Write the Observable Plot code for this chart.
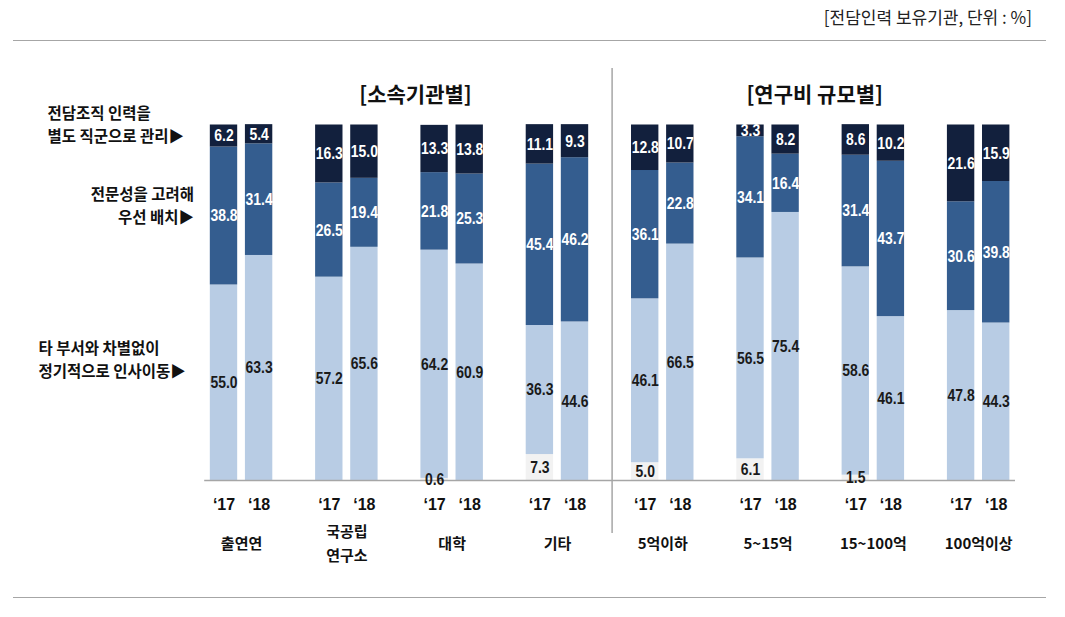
<!DOCTYPE html>
<html><head><meta charset="utf-8">
<script src="https://cdn.jsdelivr.net/npm/d3@7"></script>
<script src="https://cdn.jsdelivr.net/npm/@observablehq/plot@0.6"></script>
<style>
body{margin:0;background:#fff;width:1065px;height:617px;position:relative;overflow:hidden;font-family:"Noto Sans CJK KR","Noto Sans",sans-serif;}
#title{position:absolute;top:5px;right:33px;font-size:17px;color:#222;line-height:24px;}
.hline{position:absolute;left:13px;width:1033px;height:0;border-top:1.5px solid #a6a6a6;}
#chart{position:absolute;left:0;top:41px;}
</style></head><body>
<div id="title">[전담인력 보유기관, 단위 : %]</div>
<div class="hline" style="top:40px"></div>
<div id="chart"></div>
<div class="hline" style="top:597px"></div>
<script>
// ---- data ----
const groups = ["출연연", "국공립\n연구소", "대학", "기타", "5억이하", "5~15억", "15~100억", "100억이상"];
const years = ["‘17", "‘18"];
const sectionNames = ["[소속기관별]", "[연구비 규모별]"];
const groupSection = [0, 0, 0, 0, 1, 1, 1, 1];
const seriesNames = ["기타", "타 부서와 차별없이 정기적으로 인사이동", "전문성을 고려해 우선 배치", "전담조직 인력을 별도 직군으로 관리"];
const legendTexts = ["", "타 부서와 차별없이\n정기적으로 인사이동▶", "전문성을 고려해\n우선 배치▶", "전담조직 인력을\n별도 직군으로 관리▶"];
// values in group order, '17 then '18
const otherVals    = [0, 0,   0, 0,   0.6, 0,   7.3, 0,   5.0, 0,   6.1, 0,   1.5, 0,   0, 0];
const rotationVals = [55.0, 63.3, 57.2, 65.6, 64.2, 60.9, 36.3, 44.6, 46.1, 66.5, 56.5, 75.4, 58.6, 46.1, 47.8, 44.3];
const expertVals   = [38.8, 31.4, 26.5, 19.4, 21.8, 25.3, 45.4, 46.2, 36.1, 22.8, 34.1, 16.4, 31.4, 43.7, 30.6, 39.8];
const separateVals = [6.2, 5.4, 16.3, 15.0, 13.3, 13.8, 11.1, 9.3, 12.8, 10.7, 3.3, 8.2, 8.6, 10.2, 21.6, 15.9];

// ---- styles ----
const colors = ["#f2f2f2", "#b8cce4", "#345d8f", "#12203d"];
const numFont = "'Liberation Sans',Arial,sans-serif";
const tickFont = "Arial,'Liberation Sans',sans-serif";
const korFont = "'Noto Sans CJK KR',sans-serif";

// ---- build table ----
const seriesVals = [otherVals, rotationVals, expertVals, separateVals];
const rows = [];
groups.forEach((g, gi) => {
  years.forEach((yr, yi) => {
    const idx = gi * 2 + yi;
    const pos = gi * 3 + yi;
    let acc = 0;
    seriesVals.forEach((vals, si) => {
      const v = vals[idx];
      rows.push({group: g, year: yr, pos, series: seriesNames[si], si, value: v, y1: acc, y2: acc + v, mid: acc + v / 2, legend: legendTexts[si], gi, yi});
      acc += v;
    });
  });
});
const bars = rows.filter(d => d.value > 0);
const tickRows = groups.flatMap((g, gi) => years.map((yr, yi) => ({label: yr, pos: gi * 3 + yi})));
const groupRows = groups.map((g, gi) => ({label: g, pos: gi * 3 + 0.5}));
const sectionRows = sectionNames.map((s, si) => {
  const ps = groupRows.filter((d, gi) => groupSection[gi] === si).map(d => d.pos);
  return {label: s, pos: d3.mean(ps), si};
});
const lastOfFirst = d3.max(groupRows.filter((d, gi) => groupSection[gi] === 0), d => d.pos) + 0.5;
const firstOfSecond = d3.min(groupRows.filter((d, gi) => groupSection[gi] === 1), d => d.pos) - 0.5;
const dividerPos = (lastOfFirst + firstOfSecond) / 2;
const minPos = d3.min(rows, d => d.pos), maxPos = d3.max(rows, d => d.pos);
const firstBar = bars.filter(d => d.pos === minPos && d.si > 0);
const halfW = 0.39;

const legendStyle = {
  1: {textAnchor: "start", dx: -185.5, dy: -24.5},
  2: {textAnchor: "end", dx: -30, dy: -11.5},
  3: {textAnchor: "start", dx: -176.5, dy: -12.5}
};
const sectionDx = [16, -6];

const chart = Plot.plot({
  width: 1065,
  height: 556,
  marginTop: 83.5,
  marginBottom: 117,
  marginLeft: 0,
  marginRight: 0,
  x: {type: "linear", domain: [minPos, maxPos], range: [223.5, 995.7], axis: null},
  y: {domain: [0, 100], axis: null},
  color: {domain: seriesNames, range: colors},
  style: {fontFamily: korFont, background: "white", overflow: "visible"},
  marks: [
    Plot.rectY(bars, {x1: d => d.pos - halfW, x2: d => d.pos + halfW, y1: "y1", y2: "y2", fill: "series"}),
    Plot.ruleY([0], {x1: minPos - 0.55, x2: maxPos + 0.55, stroke: "#a6a6a6", strokeWidth: 1.5}),
    Plot.ruleX([dividerPos], {stroke: "#a6a6a6", strokeWidth: 1.5, insetTop: -56.5, insetBottom: -53, dx: 2}),
    // value labels
    Plot.text(bars.filter(d => d.si <= 1), {x: "pos", y: "mid", text: d => d.value.toFixed(1), fill: "#1a1a1a", fontFamily: numFont, fontWeight: "bold", fontSize: 17}),
    Plot.text(bars.filter(d => d.si >= 2), {x: "pos", y: "mid", text: d => d.value.toFixed(1), fill: "white", fontFamily: numFont, fontWeight: "bold", fontSize: 17}),
    // legend labels next to the first bar
    ...[1, 2, 3].map(s => Plot.text(firstBar.filter(d => d.si === s), {x: "pos", y: "mid", text: "legend", ...legendStyle[s], lineAnchor: "middle", lineHeight: 1.45, fontSize: 15.5, fontWeight: "bold", fill: "#111"})),
    // year ticks
    Plot.text(tickRows, {x: "pos", text: "label", frameAnchor: "bottom", dy: 29, fontSize: 16, fontWeight: "bold", fill: "#111", fontFamily: tickFont}),
    // group labels
    Plot.text(groupRows, {x: "pos", text: "label", frameAnchor: "bottom", dy: 61, lineAnchor: "middle", lineHeight: 1.6, fontSize: 15, fontWeight: "bold", fill: "#111"}),
    // section titles
    ...sectionRows.map(s => Plot.text([s], {x: "pos", text: "label", frameAnchor: "top", dy: -37.5, dx: sectionDx[s.si], fontSize: 21, fontWeight: "bold", fill: "#111"}))
  ]
});
document.getElementById("chart").appendChild(chart);
// narrow the numeric labels horizontally (condensed look)
chart.querySelectorAll('g[font-family^="\'Liberation Sans"] text').forEach(t => {
  const len = t.getComputedTextLength();
  t.setAttribute("textLength", (len * 0.82).toFixed(1));
  t.setAttribute("lengthAdjust", "spacingAndGlyphs");
});
</script></body></html>
